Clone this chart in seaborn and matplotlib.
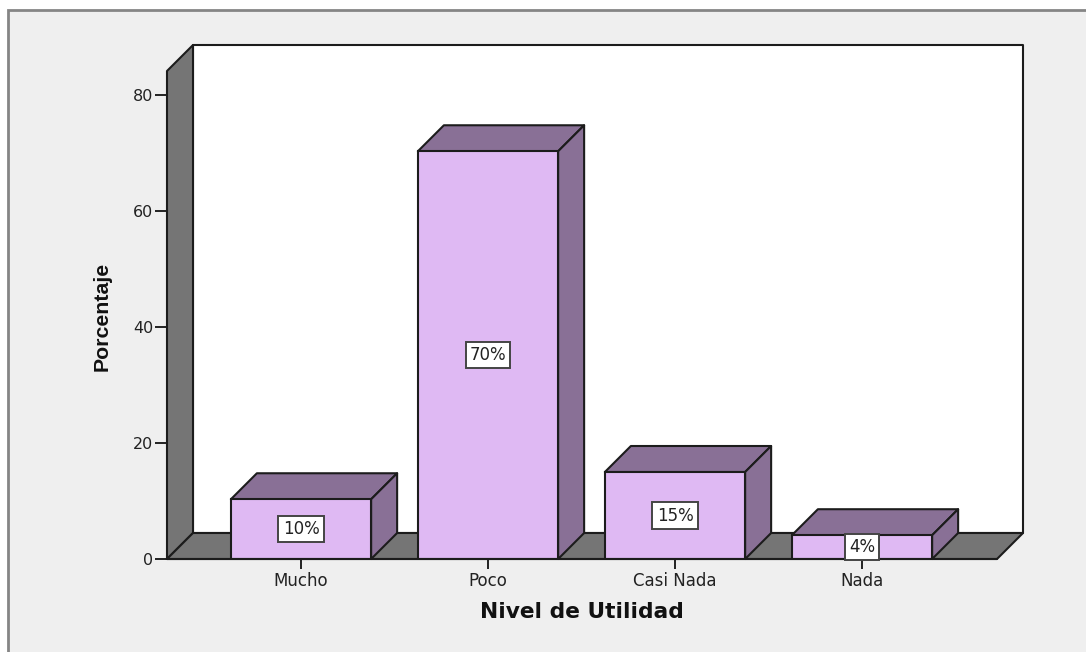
import matplotlib
matplotlib.use('Agg')
import matplotlib.pyplot as plt
from matplotlib.patches import Polygon, Rectangle
import pandas as pd
import seaborn as sns

niveles = ['Mucho', 'Poco', 'Casi Nada', 'Nada']
porcentaje = [10.3, 70.3, 15.0, 4.1]
etiquetas = ['10%', '70%', '15%', '4%']
y_ticks = [0, 20, 40, 60, 80]

LILA = '#dfb9f3'
LILA_OSC = '#897096'
GRIS = '#757575'
FONDO = '#efefef'
BORDE = '#1c1c1c'

sns.set_style('white')

W, H = 1086, 652
fig = plt.figure(figsize=(W / 100, H / 100), dpi=100, facecolor='white')

# marco exterior, se sale por la derecha y por abajo
fig.add_artist(Rectangle((8 / W, -0.05), 1.05, 1.05 - 10 / H, transform=fig.transFigure,
                         facecolor=FONDO, edgecolor='#858585', linewidth=2, zorder=-1))

ax = fig.add_axes([167 / W, (H - 559) / H, 830 / W, 488 / H])
ax.patch.set_alpha(0)

df = pd.DataFrame({'nivel': niveles, 'pct': porcentaje})
sns.barplot(data=df, x='nivel', y='pct', ax=ax, color=LILA, saturation=1, width=0.75,
            edgecolor=BORDE, linewidth=1.5, zorder=3)

xmin, xmax = -0.7166, 3.7219
ymax = 84.14
ax.set_xlim(xmin, xmax)
ax.set_ylim(0, ymax)

# profundidad del efecto 3D: 26 px en cada eje
dx = 26 / (830 / (xmax - xmin))
dy = 26 / (488 / ymax)


def cara(puntos, color, z):
    ax.add_patch(Polygon(puntos, closed=True, facecolor=color, edgecolor=BORDE,
                         linewidth=1.5, joinstyle='round', clip_on=False, zorder=z))


# paredes
cara([(xmin + dx, dy), (xmax + dx, dy), (xmax + dx, ymax + dy), (xmin + dx, ymax + dy)], 'white', 1)
cara([(xmin, 0), (xmin + dx, dy), (xmin + dx, ymax + dy), (xmin, ymax)], GRIS, 1.5)
cara([(xmin, 0), (xmax, 0), (xmax + dx, dy), (xmin + dx, dy)], GRIS, 1.5)

# caras superior y lateral de cada barra
for p in list(ax.patches):
    if p.get_zorder() != 3:
        continue
    x0, w, h = p.get_x(), p.get_width(), p.get_height()
    x1 = x0 + w
    cara([(x0, h), (x1, h), (x1 + dx, h + dy), (x0 + dx, h + dy)], LILA_OSC, 2.5)
    cara([(x1, 0), (x1 + dx, dy), (x1 + dx, h + dy), (x1, h)], LILA_OSC, 2.5)

for i, (v, txt) in enumerate(zip(porcentaje, etiquetas)):
    ax.text(i, v / 2, txt, ha='center', va='center', fontsize=12, color='#222222',
            family='DejaVu Sans', zorder=5,
            bbox=dict(boxstyle='square,pad=0.25', facecolor='white', edgecolor='#444444', linewidth=1.4))

sns.despine(ax=ax, left=True, bottom=True, top=True, right=True)
ax.plot([xmin, xmax], [0, 0], color=BORDE, lw=1.5, clip_on=False, zorder=4)

ax.set_yticks(y_ticks)
ax.tick_params(axis='y', left=True, length=9, width=1.4, color='#222222', pad=1,
               labelsize=11.5, labelcolor='#222222')
ax.tick_params(axis='x', bottom=True, length=7, width=1.4, color='#222222', pad=2,
               labelsize=12, labelcolor='#222222')
ax.set_ylabel('')
ax.set_xlabel('')

fig.text(582 / W, 1 - 612 / H, 'Nivel de Utilidad', ha='center', va='center',
         fontsize=15.7, fontweight='bold', family='DejaVu Sans', color='#111111')
fig.text(102 / W, 1 - 316 / H, 'Porcentaje', ha='center', va='center', rotation=90,
         fontsize=15.3, fontweight='bold', family='Liberation Sans', color='#111111')

fig.savefig('out.png', dpi=100)
